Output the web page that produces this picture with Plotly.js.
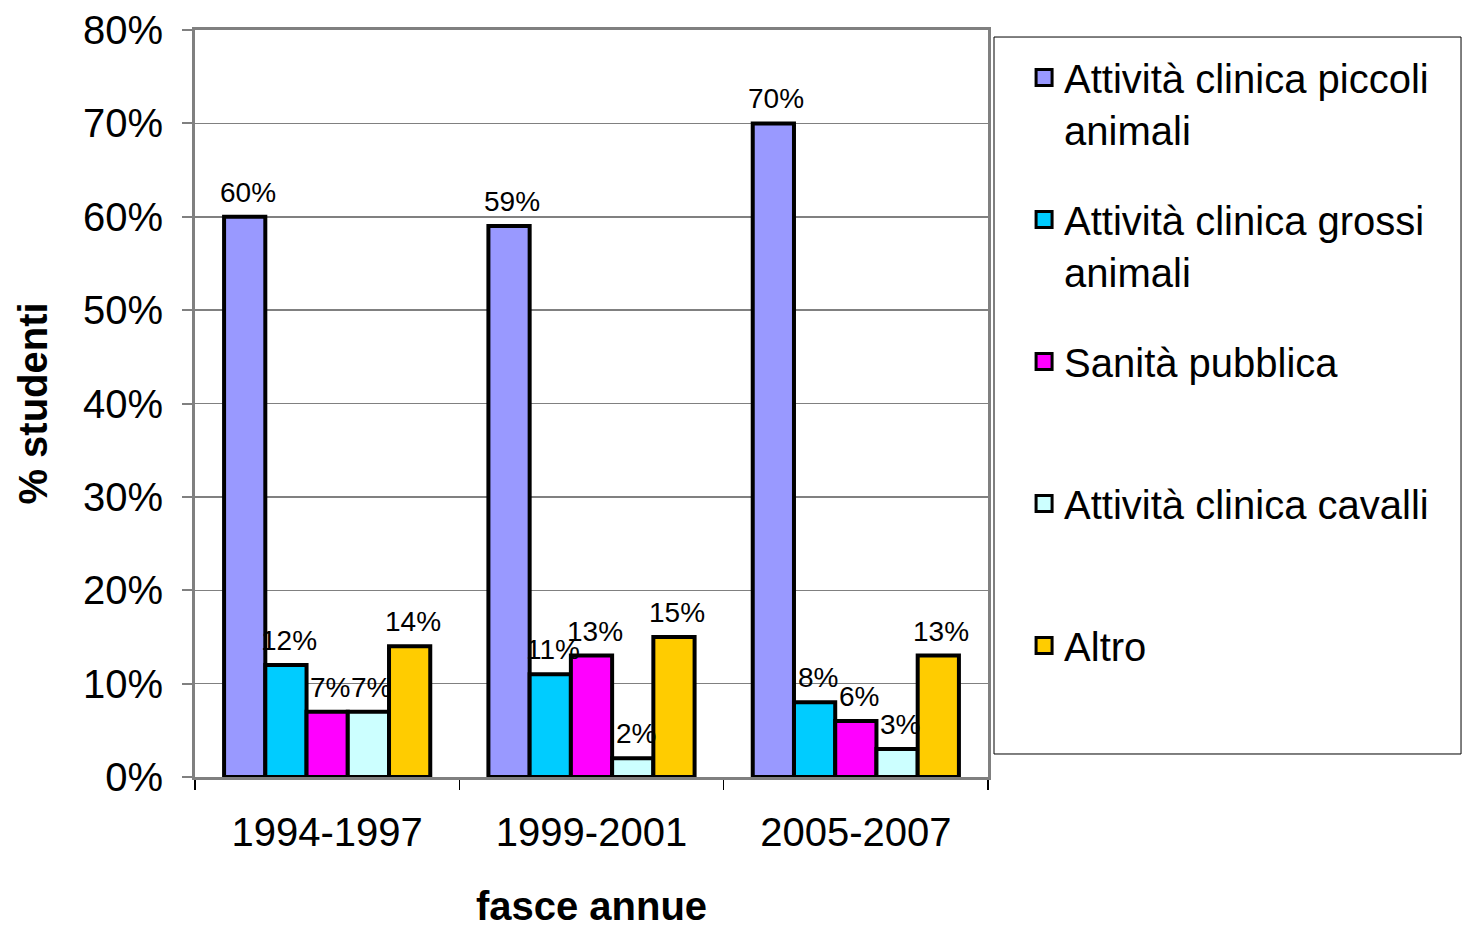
<!DOCTYPE html>
<html>
<head>
<meta charset="utf-8">
<script src="https://cdn.plot.ly/plotly-3.0.1.min.js"></script>
<style>html,body{margin:0;padding:0;background:#fff;}#chart{width:1462px;height:928px;}</style>
</head>
<body>
<div id="chart"></div>
<script>
const categories = ["1994-1997", "1999-2001", "2005-2007"];
const seriesNames = [
  "Attività clinica piccoli<br>animali",
  "Attività clinica grossi<br>animali",
  "Sanità pubblica<br> ",
  "Attività clinica cavalli<br> ",
  "Altro<br> "
];
const piccoliAnimali = [60, 59, 70];
const grossiAnimali = [12, 11, 8];
const sanitaPubblica = [7, 13, 6];
const cavalli = [7, 2, 3];
const altro = [14, 15, 13];
const yTickVals = [0, 10, 20, 30, 40, 50, 60, 70, 80];
const yTickText = ["0%", "10%", "20%", "30%", "40%", "50%", "60%", "70%", "80%"];

const colors = ["#9999FF", "#00CCFF", "#FF00FF", "#CCFFFF", "#FFCC00"];
const seriesValues = [piccoliAnimali, grossiAnimali, sanitaPubblica, cavalli, altro];

const FONT = "Liberation Sans, Arial, sans-serif";
const LABEL_FONT = "Liberation Sans Narrow, Arial Narrow, Liberation Sans, sans-serif";
const BARGAP = 0.22;
const nSeries = seriesValues.length;
const barW = (1 - BARGAP) / nSeries;

const traces = [];
const annotations = [];
seriesValues.forEach((vals, i) => {
  traces.push({
    type: "bar",
    x: categories,
    y: vals,
    name: seriesNames[i],
    showlegend: false,
    marker: {color: colors[i], line: {color: "#000000", width: 4}},
    hoverinfo: "skip"
  });
  vals.forEach((v, j) => {
    annotations.push({
      xref: "x", yref: "y",
      x: j + (i - (nSeries - 1) / 2) * barW,
      y: v,
      text: v + "%",
      showarrow: false,
      xanchor: "center", yanchor: "bottom",
      xshift: 3,
      yshift: 7,
      font: {family: LABEL_FONT, size: 28, color: "#000"}
    });
  });
});
// legend entries
seriesValues.forEach((vals, i) => {
  traces.push({
    type: "scatter",
    mode: "markers",
    x: [null],
    y: [null],
    name: seriesNames[i],
    legendgroup: "g" + i,
    marker: {symbol: "square", size: 16, color: colors[i], line: {color: "#000", width: 3}},
    showlegend: true
  });
});

const layout = {
  width: 1462,
  height: 928,
  margin: {l: 195, r: 474, t: 30, b: 151, pad: 0},
  paper_bgcolor: "#fff",
  plot_bgcolor: "#fff",
  barmode: "group",
  bargap: BARGAP,
  bargroupgap: 0,
  font: {family: FONT, color: "#000"},
  xaxis: {
    type: "category",
    tickfont: {family: FONT, size: 40, color: "#000"},
    showline: true, linecolor: "#808080", linewidth: 3, mirror: true,
    ticks: "outside", tickson: "boundaries", ticklen: 10, tickcolor: "#000", tickwidth: 1.5,
    ticklabelstandoff: 18,
    showgrid: false,
    title: {text: "<b>fasce annue</b>", font: {family: FONT, size: 40, color: "#000"}, standoff: 45}
  },
  yaxis: {
    range: [0, 80],
    tickvals: yTickVals,
    ticktext: yTickText,
    tickfont: {family: FONT, size: 40, color: "#000"},
    showline: true, linecolor: "#808080", linewidth: 3, mirror: true,
    ticks: "outside", ticklen: 10, tickcolor: "#808080", tickwidth: 2,
    ticklabelstandoff: 11,
    showgrid: true, gridcolor: "#808080", gridwidth: 1.5,
    zeroline: false,
    title: {text: "<b>% studenti</b>", font: {family: FONT, size: 40, color: "#000"}, standoff: 23}
  },
  showlegend: true,
  legend: {
    x: 1.0455, xanchor: "left",
    y: 0.98, yanchor: "top",
    font: {family: FONT, size: 40, color: "#000"},
    bgcolor: "rgba(0,0,0,0)",
    borderwidth: 0,
    valign: "top",
    tracegroupgap: 35,
    itemsizing: "trace"
  },
  annotations: annotations,
  shapes: [{
    type: "rect", xref: "paper", yref: "paper",
    x0: 1.00757, x1: 1.5965, y0: 0.0308, y1: 0.9906,
    line: {color: "#000", width: 1}, fillcolor: "rgba(0,0,0,0)", layer: "below"
  }]
};

Plotly.newPlot("chart", traces, layout, {displayModeBar: false, staticPlot: true});
</script>
</body>
</html>
